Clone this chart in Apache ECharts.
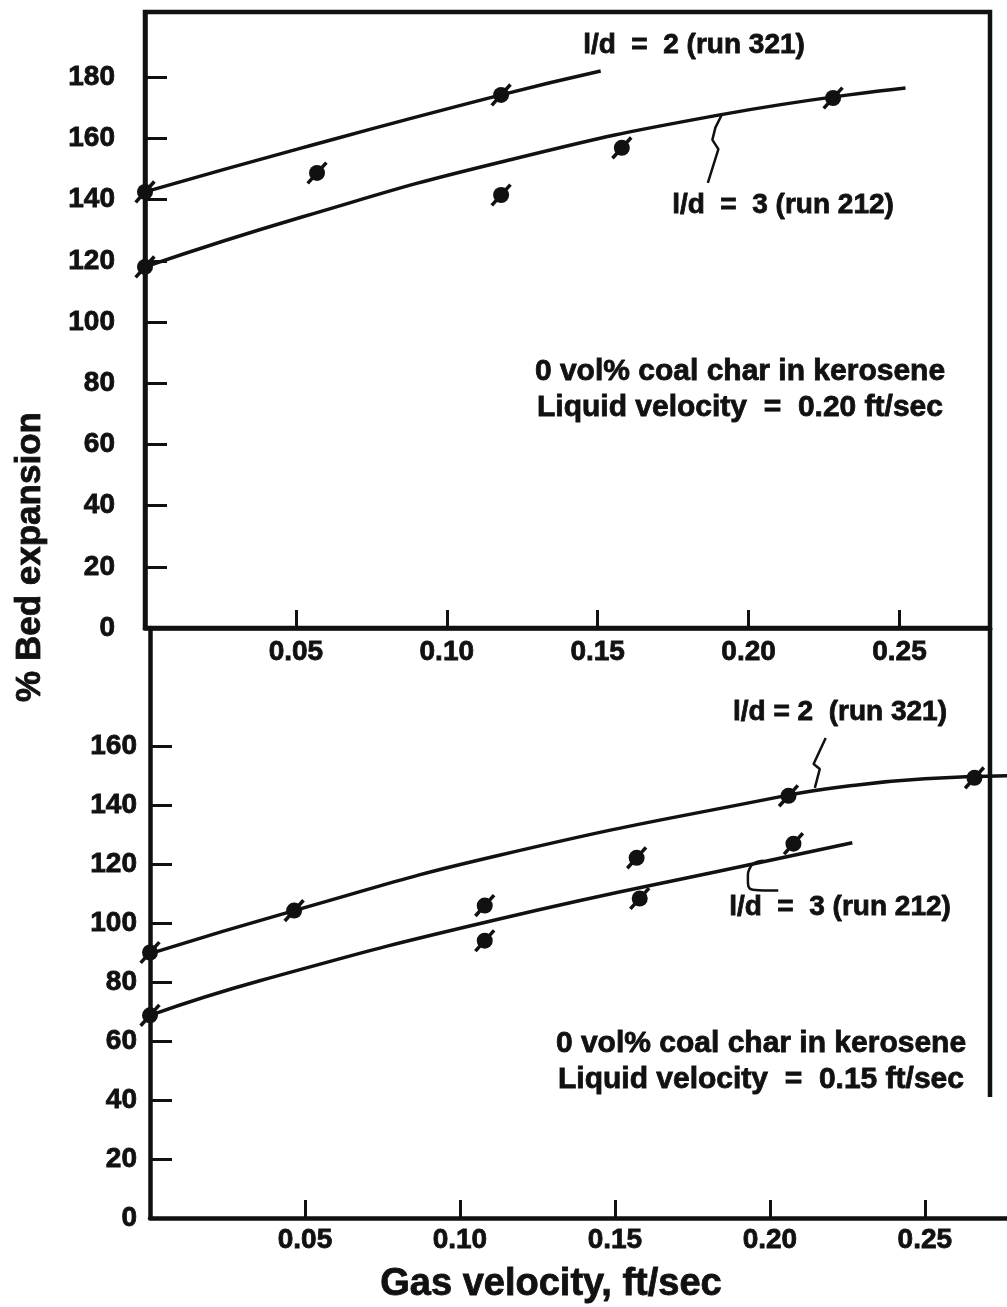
<!DOCTYPE html>
<html>
<head>
<meta charset="utf-8">
<script src="https://cdn.jsdelivr.net/npm/echarts@6/dist/echarts.min.js"></script>
<style>
  html, body { margin: 0; padding: 0; background: #fff; }
  #chart { width: 1007px; height: 1307px; }
</style>
</head>
<body>
<div id="chart"></div>
<script>
// Axis ticks
const xTickValues = [0.05, 0.10, 0.15, 0.20, 0.25];
const yTicksUpper = [0, 20, 40, 60, 80, 100, 120, 140, 160, 180];
const yTicksLower = [0, 20, 40, 60, 80, 100, 120, 140, 160];

// Upper panel: liquid velocity 0.20 ft/sec  [gas velocity, % bed expansion]
const upperRun321Points = [[0, 142.5], [0.057, 148.7], [0.118, 174.2]];
const upperRun212Points = [[0, 118], [0.118, 141.5], [0.158, 156.9], [0.228, 173.2]];
const upperRun321Curve = [[0, 142.5], [0.052, 156.9], [0.118, 174.2], [0.151, 182]];
const upperRun212Curve = [[0, 118], [0.052, 134.3], [0.118, 152.3], [0.19, 167.6], [0.252, 176.5]];

// Lower panel: liquid velocity 0.15 ft/sec
const lowerRun321Points = [[0, 90], [0.0465, 104.2], [0.108, 105.9], [0.157, 122.1], [0.206, 143.1], [0.266, 149.2]];
const lowerRun212Points = [[0, 68.7], [0.108, 94], [0.158, 108.3], [0.2076, 126.9]];
const lowerRun321Curve = [[0, 89.6], [0.0465, 104.2], [0.112, 122.8], [0.2047, 143.1], [0.2266, 146.6],
                          [0.25, 148.9], [0.28, 150]];
const lowerRun212Curve = [[0, 68.7], [0.0357, 80.5], [0.112, 101.2], [0.1994, 121.1], [0.2266, 127.2]];

// Leader strokes from curve labels to their curves (data coordinates)
const upperRun212Leader = [[0.191, 167.5], [0.189, 163.5], [0.188, 159.5], [0.190, 156.5], [0.1865, 145.5]];
const lowerRun321Leader = [[0.2145, 145.8], [0.2161, 152.2], [0.2141, 153.9], [0.218, 162.7]];
const lowerRun212Leader = [[0.198, 121.1], [0.1938, 119.1], [0.1929, 115.0], [0.1945, 111.3], [0.2027, 111.0]];

const INK = '#111';
const FONT = '"Liberation Sans", Arial, sans-serif';

function curve(name, data, idx) {
  return {
    name, type: 'line', data, xAxisIndex: idx, yAxisIndex: idx,
    smooth: 0.5, showSymbol: false, silent: true,
    lineStyle: { color: INK, width: 3.5 }, z: 3
  };
}
function leader(name, data, idx, smooth) {
  return {
    name, type: 'line', data, xAxisIndex: idx, yAxisIndex: idx,
    smooth: smooth, showSymbol: false, silent: true,
    lineStyle: { color: INK, width: 2.5 }, z: 3
  };
}
// Each measured point: filled dot crossed by a slash
function dots(name, data, idx) {
  return [
    { name, type: 'scatter', data, xAxisIndex: idx, yAxisIndex: idx, silent: true,
      symbol: 'circle', symbolSize: 16, itemStyle: { color: INK, opacity: 1 }, z: 5 },
    { name, type: 'scatter', data, xAxisIndex: idx, yAxisIndex: idx, silent: true,
      symbol: 'rect', symbolSize: [3.5, 28], symbolRotate: -42, itemStyle: { color: INK, opacity: 1 }, z: 5 }
  ];
}

const labelFont = { color: INK, fontSize: 28, fontWeight: 'bold', fontFamily: FONT,
                    textBorderColor: INK, textBorderWidth: 0.8 };

function xAxisCfg(gridIndex, max, margin) {
  return {
    type: 'value', gridIndex, min: 0, max,
    splitLine: { show: false },
    axisLine: { show: true, onZero: false, lineStyle: { color: INK, width: 4.5 } },
    axisTick: { show: true, inside: true, length: 18, customValues: xTickValues,
                lineStyle: { color: INK, width: 3 } },
    axisLabel: Object.assign({ customValues: xTickValues, margin, formatter: v => v.toFixed(2) }, labelFont)
  };
}
function yAxisCfg(gridIndex, max, ticks, margin) {
  return {
    type: 'value', gridIndex, min: 0, max,
    splitLine: { show: false },
    axisLine: { show: true, onZero: false, lineStyle: { color: INK, width: 4.5 } },
    axisTick: { show: true, inside: true, length: 22, customValues: ticks.filter(v => v > 0),
                lineStyle: { color: INK, width: 3 } },
    axisLabel: Object.assign({ customValues: ticks, margin }, labelFont)
  };
}

const chart = echarts.init(document.getElementById('chart'), null, { renderer: 'canvas' });

const textStyle = (size) => ({ font: 'bold ' + size + 'px ' + FONT, fill: INK,
                               stroke: INK, lineWidth: 0.8,
                               textAlign: 'center', textVerticalAlign: 'middle' });

chart.setOption({
  backgroundColor: '#fff',
  animation: false,
  grid: [
    { left: 145, top: 12, width: 845, height: 616, show: true, borderColor: INK, borderWidth: 4.5,
      backgroundColor: 'transparent' },
    { left: 150, top: 628, right: 0, height: 590 }
  ],
  xAxis: [xAxisCfg(0, 0.28, 10), xAxisCfg(1, 0.2765, 8)],
  yAxis: [yAxisCfg(0, 201.3, yTicksUpper, 30), yAxisCfg(1, 200, yTicksLower, 13)],
  series: [
    curve('l/d = 2 (run 321)', upperRun321Curve, 0),
    curve('l/d = 3 (run 212)', upperRun212Curve, 0),
    ...dots('l/d = 2 (run 321)', upperRun321Points, 0),
    ...dots('l/d = 3 (run 212)', upperRun212Points, 0),
    leader('leader 212', upperRun212Leader, 0, false),
    curve('l/d = 2 (run 321)', lowerRun321Curve, 1),
    curve('l/d = 3 (run 212)', lowerRun212Curve, 1),
    ...dots('l/d = 2 (run 321)', lowerRun321Points, 1),
    ...dots('l/d = 3 (run 212)', lowerRun212Points, 1),
    leader('leader 321', lowerRun321Leader, 1, false),
    leader('leader 212', lowerRun212Leader, 1, 0.6)
  ],
  graphic: [
    // right frame edge continuing into the lower panel
    { type: 'line', shape: { x1: 990, y1: 628, x2: 990, y2: 1097 },
      style: { stroke: INK, lineWidth: 4.5 }, z: 10 },
    { type: 'text', x: 694, y: 45, style: Object.assign(textStyle(28), { text: 'l/d  =  2 (run 321)' }) },
    { type: 'text', x: 783, y: 205, style: Object.assign(textStyle(28), { text: 'l/d  =  3 (run 212)' }) },
    { type: 'text', x: 740, y: 390, style: Object.assign(textStyle(30),
      { text: '0 vol% coal char in kerosene\nLiquid velocity  =  0.20 ft/sec', lineHeight: 36 }) },
    { type: 'text', x: 840, y: 712, style: Object.assign(textStyle(28), { text: 'l/d = 2  (run 321)' }) },
    { type: 'text', x: 840, y: 907, style: Object.assign(textStyle(28), { text: 'l/d  =  3 (run 212)' }) },
    { type: 'text', x: 761, y: 1062, style: Object.assign(textStyle(30),
      { text: '0 vol% coal char in kerosene\nLiquid velocity  =  0.15 ft/sec', lineHeight: 36 }) },
    { type: 'text', x: 30, y: 557, rotation: Math.PI / 2,
      style: Object.assign(textStyle(35), { text: '% Bed expansion' }) },
    { type: 'text', x: 551, y: 1285, style: Object.assign(textStyle(38), { text: 'Gas velocity, ft/sec' }) }
  ]
});
</script>
</body>
</html>
